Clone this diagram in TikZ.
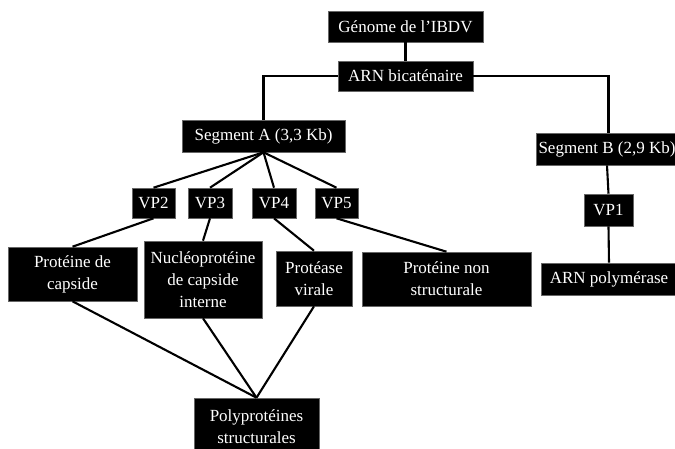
\documentclass[tikz,border=0pt]{standalone}
\usepackage{fontspec}
\setmainfont{Liberation Serif}
\usetikzlibrary{calc}

\begin{document}
\begin{tikzpicture}[x=1pt,y=-1pt,
  bloc/.style={fill=black,draw=black!60,line width=0.6pt,text=white,align=center,
    inner sep=0pt,font=\fontsize{17}{22}\selectfont},
  lien/.style={line width=2.1pt}]

\path[use as bounding box,clip] (0,0) rectangle (675,448);

\node[bloc,minimum width=155,minimum height=31] (genome) at (405.5,26.5) {G\'enome de l'IBDV};
\node[bloc,minimum width=135,minimum height=30] (arn) at (405.5,76) {ARN bicat\'enaire};
\node[bloc,minimum width=163,minimum height=32] (sega) at (263.5,136) {Segment A (3,3 Kb)};
\node[bloc,minimum width=141,minimum height=32] (segb) at (607,149) {Segment B (2,9 Kb)};

% segment A
\node[bloc,minimum width=43,minimum height=30] (vp2) at (153.5,203) {VP2};
\node[bloc,minimum width=44,minimum height=30] (vp3) at (210,203) {VP3};
\node[bloc,minimum width=44,minimum height=30] (vp4) at (274,203) {VP4};
\node[bloc,minimum width=43,minimum height=30] (vp5) at (336.5,203) {VP5};

\node[bloc,minimum width=129,minimum height=54] (capside) at (72.5,274) {Prot\'eine de\\capside};
\node[bloc,minimum width=118,minimum height=77] (nucleo) at (203,279.5) {Nucl\'eoprot\'eine\\de capside\\interne};
\node[bloc,minimum width=76,minimum height=55] (protease) at (314,278.5) {Prot\'ease\\virale};
\node[bloc,minimum width=169,minimum height=54] (nonstruct) at (446.5,279) {Prot\'eine non\\structurale};
\node[bloc,minimum width=125,minimum height=57] (poly) at (256.5,426.5) {Polyprot\'eines\\structurales};

% segment B
\node[bloc,minimum width=49,minimum height=32] (vp1) at (608.5,210) {VP1};
\node[bloc,minimum width=136,minimum height=32] (arnpol) at (609,279) {ARN polym\'erase};

\draw[lien] (genome.south) -- (arn.north);
\draw[lien] (arn.west) -| (sega.north);
\draw[lien] (arn.east) -| (vp1.north |- segb.north);
\draw[lien] (segb.south) -- (vp1.north);
\draw[lien] (vp1.south) -- (arnpol.north);

\foreach \v in {vp2,vp3,vp4,vp5}
  \draw[lien] (sega.south) -- (\v.north);

\draw[lien] (vp2.south) -- (capside.north);
\draw[lien] (vp3.south) -- (nucleo.north);
\draw[lien] (vp4.south) -- (protease.north);
\draw[lien] (vp5.south) -- (nonstruct.north);

\foreach \p in {capside,nucleo,protease}
  \draw[lien] (\p.south) -- (poly.north);

\end{tikzpicture}
\end{document}
